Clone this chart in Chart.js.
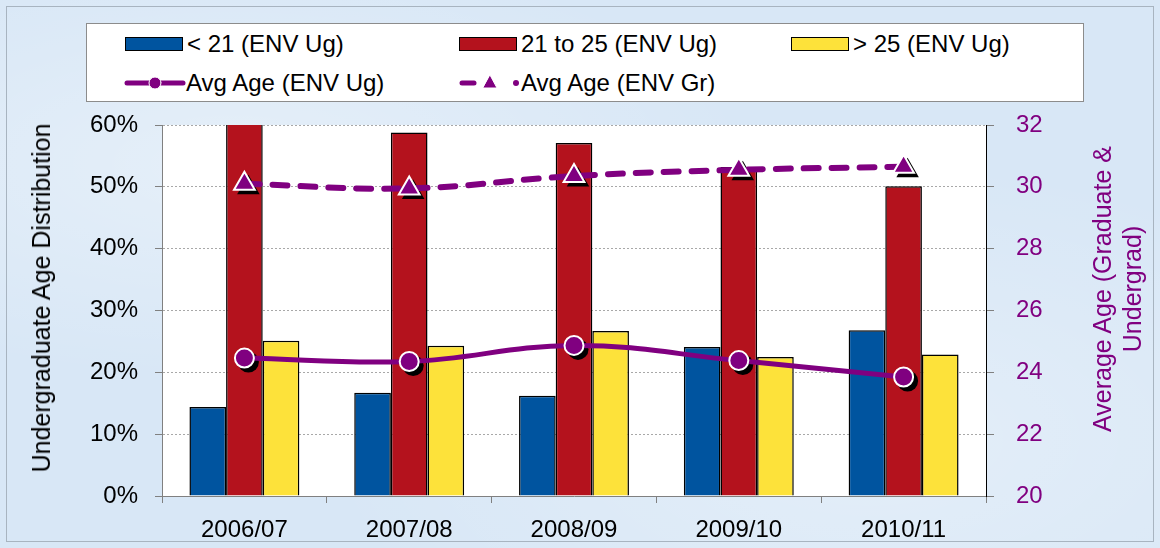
<!DOCTYPE html>
<html>
<head>
<meta charset="utf-8">
<script src="https://cdn.jsdelivr.net/npm/chart.js@4.4.0/dist/chart.umd.min.js"></script>
<style>
  body { margin: 0; background: #d9e7f6; font-family: "Liberation Sans", Arial, sans-serif; }
  #wrap {
    position: relative; width: 1160px; height: 548px; overflow: hidden;
    background:
      radial-gradient(ellipse at 20% 30%, rgba(255,255,255,0.35), rgba(255,255,255,0) 40%),
      radial-gradient(ellipse at 75% 80%, rgba(255,255,255,0.3), rgba(255,255,255,0) 45%),
      #d8e7f6;
  }
  #frame { position: absolute; left: 6px; top: 6px; right: 6px; bottom: 6px; border: 1px solid #a8b4c0; pointer-events: none; }
  canvas#chart { position: absolute; left: 0; top: 0; }
  #legend {
    position: absolute; left: 86px; top: 23px; width: 996px; height: 77px;
    background: #fff; border: 1px solid #8c8c8c;
  }
  .item { position: absolute; display: flex; align-items: center; height: 30px; font-size: 24px; color: #000; white-space: nowrap; }
  .item .sym { width: 62px; height: 30px; display: flex; align-items: center; }
  .item .box { width: 56px; height: 12px; border: 1.5px solid #000; }
  .ytitle { position: absolute; white-space: nowrap; text-align: center; font-size: 25px; line-height: 30px; transform: translate(-50%, -50%) rotate(-90deg); }
</style>
</head>
<body>
<div id="wrap">
  <canvas id="chart" width="1160" height="548"></canvas>
  <div id="legend"></div>
  <div class="ytitle" style="left:41px; top:298px; color:#000;">Undergraduate Age Distribution</div>
  <div class="ytitle" style="left:1117px; top:289px; color:#800080;">Average Age (Graduate &amp;<br>Undergrad)</div>
  <div id="frame"></div>
</div>
<script>
// years on the x axis
const years = ['2006/07', '2007/08', '2008/09', '2009/10', '2010/11'];

// undergraduate age distribution (%)
const under21 = [14.4, 16.7, 16.2, 24.1, 26.8];
const from21to25 = [62.0, 58.8, 57.1, 53.2, 50.1];
const over25 = [25.1, 24.3, 26.7, 22.5, 22.9];

// average age (years)
const avgAgeUg = [24.46, 24.35, 24.87, 24.38, 23.85];
const avgAgeGr = [30.1, 29.95, 30.35, 30.55, 30.65];

const PURPLE = '#800080';
const FONT = '"Liberation Sans", Arial, sans-serif';

// white plot background
const plotBackground = {
    id: 'plotBackground',
    beforeDraw(chart) {
        const { ctx, chartArea } = chart;
        ctx.save();
        ctx.fillStyle = '#fff';
        ctx.fillRect(chartArea.left, chartArea.top, chartArea.right - chartArea.left, chartArea.bottom - chartArea.top);
        ctx.restore();
    }
};

// black drop shadow behind line markers
const markerShadow = {
    id: 'markerShadow',
    beforeDatasetDraw(chart, args) {
        const ds = chart.data.datasets[args.index];
        if (ds.type !== 'line') return;
        const ctx = chart.ctx;
        ctx.save();
        ctx.fillStyle = '#000';
        args.meta.data.forEach(pt => {
            Chart.helpers.drawPoint(ctx, {
                pointStyle: ds.pointStyle,
                radius: ds.pointRadius + 1,
                rotation: 0,
                borderWidth: 0
            }, pt.x + 4, pt.y + 4);
        });
        ctx.restore();
    }
};

const chart = new Chart(document.getElementById('chart').getContext('2d'), {
    data: {
        labels: years,
        datasets: [
            {
                type: 'line', label: 'Avg Age (ENV Ug)', data: avgAgeUg, yAxisID: 'y1', order: 0,
                borderColor: PURPLE, borderWidth: 5, tension: 0.4,
                pointStyle: 'circle', pointRadius: 9.5, pointBackgroundColor: PURPLE,
                pointBorderColor: '#fff', pointBorderWidth: 2
            },
            {
                type: 'line', label: 'Avg Age (ENV Gr)', data: avgAgeGr, yAxisID: 'y1', order: 0,
                borderColor: PURPLE, borderWidth: 6, borderDash: [15, 13], borderCapStyle: 'round', tension: 0.4,
                pointStyle: 'triangle', pointRadius: 12, pointBackgroundColor: PURPLE,
                pointBorderColor: '#fff', pointBorderWidth: 2
            },
            {
                type: 'bar', label: '< 21 (ENV Ug)', data: under21, yAxisID: 'y', order: 1,
                backgroundColor: '#00549f', borderColor: '#000', borderWidth: 1.5
            },
            {
                type: 'bar', label: '21 to 25 (ENV Ug)', data: from21to25, yAxisID: 'y', order: 1,
                backgroundColor: '#b4121d', borderColor: '#000', borderWidth: 1.5
            },
            {
                type: 'bar', label: '> 25 (ENV Ug)', data: over25, yAxisID: 'y', order: 1,
                backgroundColor: '#fde23a', borderColor: '#000', borderWidth: 1.5
            }
        ]
    },
    options: {
        responsive: false,
        animation: false,
        layout: { padding: { top: 125, left: 0, right: 0, bottom: 0 } },
        datasets: { bar: { barPercentage: 1, categoryPercentage: 0.667 } },
        plugins: { legend: { display: false }, tooltip: { enabled: false } },
        scales: {
            x: {
                offset: true,
                grid: { offset: true, drawOnChartArea: false, tickLength: 7, tickColor: '#808080' },
                border: { color: '#808080' },
                ticks: { color: '#000', font: { family: FONT, size: 24 }, padding: 13 },
                afterFit(s) { s.height = 52; }
            },
            y: {
                position: 'left', min: 0, max: 60,
                ticks: { stepSize: 10, color: '#000', font: { family: FONT, size: 24 }, padding: 17, callback: v => v + '%' },
                grid: { color: '#a8a8a8', tickLength: 7, tickColor: '#808080' },
                border: { color: '#808080', dash: [2, 2] },
                afterFit(s) { s.width = 162; }
            },
            y1: {
                position: 'right', min: 20, max: 32,
                ticks: { stepSize: 2, color: PURPLE, font: { family: FONT, size: 24 }, padding: 22 },
                grid: { drawOnChartArea: false, tickLength: 8, tickColor: '#808080' },
                border: { color: '#000' },
                afterFit(s) { s.width = 174; }
            }
        }
    },
    plugins: [plotBackground, markerShadow]
});

// legend built from the chart's datasets
function buildLegend() {
    const legend = document.getElementById('legend');
    const slots = {
        '< 21 (ENV Ug)': [38, 5], '21 to 25 (ENV Ug)': [372, 5], '> 25 (ENV Ug)': [704, 5],
        'Avg Age (ENV Ug)': [37, 44], 'Avg Age (ENV Gr)': [372, 44]
    };
    chart.data.datasets.forEach(ds => {
        const [x, y] = slots[ds.label];
        const item = document.createElement('div');
        item.className = 'item';
        item.style.left = x + 'px';
        item.style.top = y + 'px';
        const sym = document.createElement('div');
        sym.className = 'sym';
        if (ds.type === 'bar') {
            const box = document.createElement('div');
            box.className = 'box';
            box.style.background = ds.backgroundColor;
            sym.appendChild(box);
        } else {
            const c = document.createElement('canvas');
            c.width = 62; c.height = 30;
            const g = c.getContext('2d');
            g.strokeStyle = PURPLE; g.fillStyle = PURPLE; g.lineCap = 'round'; g.lineWidth = 5;
            if (ds.pointStyle === 'circle') {
                g.beginPath(); g.moveTo(3, 15); g.lineTo(59, 15); g.stroke();
                g.beginPath(); g.arc(31, 15, 6, 0, Math.PI * 2); g.fill();
                g.strokeStyle = '#fff'; g.lineWidth = 1; g.stroke();
            } else {
                g.beginPath(); g.moveTo(3, 15); g.lineTo(15, 15); g.stroke();
                g.beginPath(); g.arc(57, 15, 3, 0, Math.PI * 2); g.fill();
                g.beginPath(); g.moveTo(31, 7); g.lineTo(38, 20); g.lineTo(24, 20); g.closePath(); g.fill();
                g.strokeStyle = '#fff'; g.lineWidth = 1; g.stroke();
            }
            sym.appendChild(c);
        }
        const txt = document.createElement('span');
        txt.textContent = ds.label;
        item.appendChild(sym);
        item.appendChild(txt);
        legend.appendChild(item);
    });
}
buildLegend();
</script>
</body>
</html>
